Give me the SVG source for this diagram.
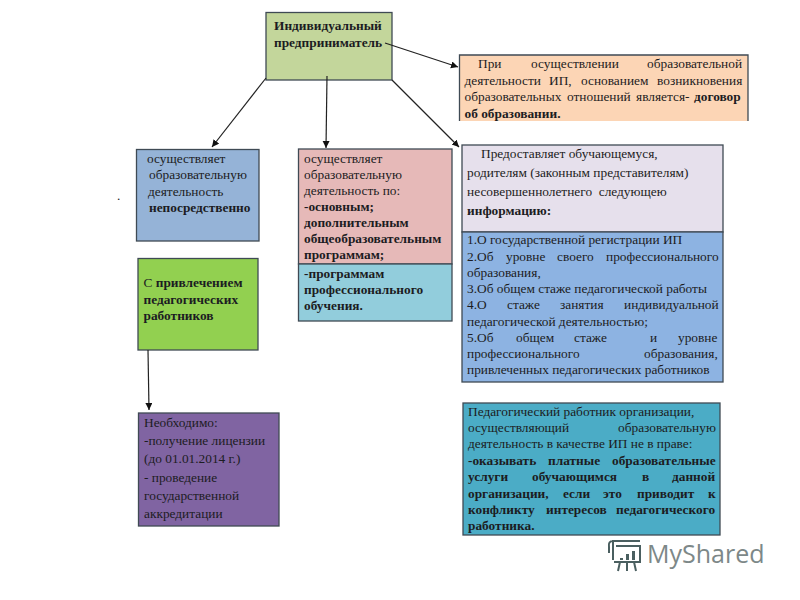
<svg xmlns="http://www.w3.org/2000/svg" width="800" height="600" viewBox="0 0 800 600">
<style>
text{font-family:"Liberation Serif","Times New Roman",serif;font-size:13.35px;fill:#1c1c22}
.b{font-weight:bold}
.box{stroke:#3f4a54;stroke-width:1.3}
.c{fill:none;stroke:#222;stroke-width:1.2;marker-end:url(#a)}
.logo{fill:none;stroke:#4a5f60;stroke-width:2}
</style>
<defs><marker id="a" markerUnits="userSpaceOnUse" markerWidth="8" markerHeight="8" refX="7" refY="3.5" orient="auto"><path d="M0 0L7 3.5L0 7z" fill="#111"/></marker></defs>
<rect width="800" height="600" fill="#fff"/>
<g id="node-ip">
<rect class="box" x="266" y="12.5" width="126" height="67.5" fill="#c3d69b"/>
<text class="b" x="274" y="30">Индивидуальный</text>
<text class="b" x="274" y="46.5">предприниматель</text>
</g>
<g id="node-direct">
<rect class="box" x="136.5" y="149.5" width="122.5" height="91.5" fill="#95b3d7"/>
<text x="147" y="163">осуществляет</text>
<text x="149" y="179">образовательную</text>
<text x="148" y="196">деятельность</text>
<text class="b" x="149" y="212">непосредственно</text>
</g>
<g id="node-programs">
<rect class="box" x="298.5" y="149" width="153.5" height="115" fill="#e6b9b8"/>
<text x="304" y="163">осуществляет</text>
<text x="304" y="179">образовательную</text>
<text x="304" y="195">деятельность по:</text>
<text class="b" x="304" y="211">-основным;</text>
<text class="b" x="304" y="227">дополнительным</text>
<text class="b" x="304" y="243">общеобразовательным</text>
<text class="b" x="304" y="259">программам;</text>
</g>
<g id="node-professional">
<rect class="box" x="298.5" y="264" width="153.5" height="57" fill="#92cddc"/>
<text class="b" x="304" y="278">-программам</text>
<text class="b" x="304" y="294">профессионального</text>
<text class="b" x="304" y="310">обучения.</text>
</g>
<g id="node-contract">
<path d="M459.5 121V55H748V121z" fill="#fcd5b5"/>
<path class="box" d="M459.5 121V55H748V121" fill="none"/>
<text y="68"><tspan x="478">При</tspan><tspan x="531">осуществлении</tspan><tspan x="647">образовательной</tspan></text>
<text y="85"><tspan x="464.5">деятельности</tspan><tspan x="549">ИП,</tspan><tspan x="581">основанием</tspan><tspan x="657">возникновения</tspan></text>
<text y="101"><tspan x="464.5">образовательных</tspan><tspan x="567">отношений</tspan><tspan x="636">является-</tspan><tspan class="b" x="694">договор</tspan></text>
<text class="b" x="464.5" y="118">об образовании.</text>
</g>
<g id="node-provides">
<rect class="box" x="462" y="145" width="261" height="87" fill="#e6e0ec"/>
<text x="481" y="158">Предоставляет обучающемуся,</text>
<text x="467" y="177">родителям (законным представителям)</text>
<text x="467" y="196" xml:space="preserve">несовершеннолетнего  следующею</text>
<text class="b" x="467" y="215">информацию:</text>
</g>
<g id="node-information">
<rect class="box" x="462" y="232" width="261" height="150" fill="#8db3e2"/>
<text x="467" y="244">1.О государственной регистрации ИП</text>
<text y="261"><tspan x="467">2.Об</tspan><tspan x="506">уровне</tspan><tspan x="557">своего</tspan><tspan x="606">профессионального</tspan></text>
<text x="467" y="277">образования,</text>
<text x="467" y="293">3.Об общем стаже педагогической работы</text>
<text y="309"><tspan x="467">4.О</tspan><tspan x="507">стаже</tspan><tspan x="560">занятия</tspan><tspan x="624">индивидуальной</tspan></text>
<text x="467" y="326">педагогической деятельностью;</text>
<text y="342"><tspan x="467">5.Об</tspan><tspan x="516">общем</tspan><tspan x="574">стаже</tspan><tspan x="650">и</tspan><tspan x="678">уровне</tspan></text>
<text y="358"><tspan x="467">профессионального</tspan><tspan x="644">образования,</tspan></text>
<text x="467" y="374">привлеченных педагогических работников</text>
</g>
<g id="node-staff">
<rect class="box" x="138" y="258.5" width="120" height="91.5" fill="#92d050"/>
<text x="143.5" y="287">С <tspan class="b">привлечением</tspan></text>
<text class="b" x="143.5" y="304">педагогических</text>
<text class="b" x="143.5" y="320">работников</text>
</g>
<g id="node-license">
<rect class="box" x="138.5" y="413" width="140.5" height="113" fill="#8064a2"/>
<text x="144" y="427">Необходимо:</text>
<text x="144" y="445">-получение лицензии</text>
<text x="144" y="463">(до 01.01.2014 г.)</text>
<text x="144" y="482">- проведение</text>
<text x="144" y="500">государственной</text>
<text x="144" y="518">аккредитации</text>
</g>
<g id="node-prohibition">
<rect class="box" x="463" y="403" width="257" height="132" fill="#4bacc6"/>
<text x="468" y="416">Педагогический работник организации,</text>
<text y="432"><tspan x="468">осуществляющий</tspan><tspan x="618">образовательную</tspan></text>
<text x="468" y="448">деятельность в качестве ИП не в праве:</text>
<text class="b" y="465"><tspan x="468">-оказывать</tspan><tspan x="548">платные</tspan><tspan x="612">образовательные</tspan></text>
<text class="b" y="481"><tspan x="468">услуги</tspan><tspan x="532">обучающимся</tspan><tspan x="642">в</tspan><tspan x="672">данной</tspan></text>
<text class="b" y="498"><tspan x="468">организации,</tspan><tspan x="563">если</tspan><tspan x="603">это</tspan><tspan x="637">приводит</tspan><tspan x="708">к</tspan></text>
<text class="b" y="514"><tspan x="468">конфликту</tspan><tspan x="546">интересов</tspan><tspan x="616">педагогического</tspan></text>
<text class="b" x="468" y="530">работника.</text>
</g>
<g id="connectors">
<line class="c" x1="385" y1="43" x2="458" y2="67"/>
<line class="c" x1="266" y1="78" x2="212" y2="147"/>
<line class="c" x1="327" y1="76" x2="326" y2="148"/>
<line class="c" x1="392" y1="80" x2="459" y2="147"/>
<line class="c" x1="148" y1="350" x2="149" y2="410"/>
</g>
<text x="117" y="200">.</text>
<g id="logo">
<path class="logo" d="M613 560V541H640M613 541Q608 541 609 547V553M616 546H640V562H614M620 562L618 571M627 562V571M634 562L636 571"/>
<path d="M620 558h3v2h-3zM626 554h3v6h-3zM632 551h3v9h-3z" fill="#4a5f60"/>
<text x="647" y="563" style="font-family:'Open Sans',sans-serif;font-size:25px;fill:#7d8888">MyShared</text>
</g>
</svg>
